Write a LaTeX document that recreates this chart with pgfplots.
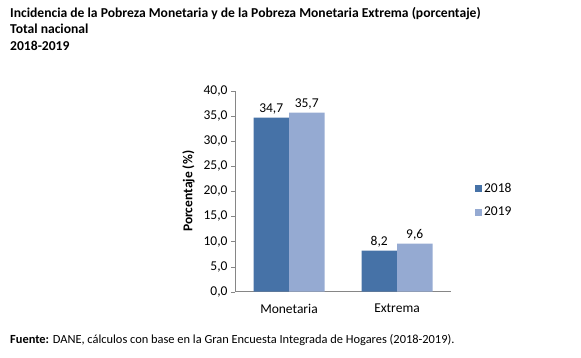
\documentclass[border=0pt]{standalone}
\usepackage{fontspec}
\setmainfont{Carlito}
\usepackage{pgfplots}
\pgfplotsset{compat=1.18}
\definecolor{c18}{RGB}{70,114,167}
\definecolor{c19}{RGB}{149,170,210}
\definecolor{axgray}{RGB}{134,134,134}
\begin{document}
\begin{tikzpicture}[x=1pt,y=1pt]
\path[use as bounding box] (0pt,0pt) rectangle (581pt,358pt);
\node[anchor=north west, font=\bfseries\fontsize{13.6}{16.5}\selectfont, align=left, inner sep=0] at (10pt,351pt) {Incidencia de la Pobreza Monetaria y de la Pobreza Monetaria Extrema (porcentaje)\\Total nacional\\2018-2019};
\node[anchor=base west, font=\fontsize{12.4}{14}\selectfont, inner sep=0] at (10pt,14pt) {\textbf{Fuente:} DANE, cálculos con base en la Gran Encuesta Integrada de Hogares (2018-2019).};
\begin{axis}[
  at={(235pt,66.3pt)}, anchor=south west,
  scale only axis, width=216pt, height=200.7pt,
  ybar=0pt, bar width=35.5pt,
  xmin=-0.5, xmax=1.5, ymin=0, ymax=40,
  axis x line*=bottom, axis y line*=left,
  axis line style={axgray},
  every outer x axis line/.append style={-}, every outer y axis line/.append style={-},
  xtick={0,1}, xticklabels={Monetaria,Extrema},
  x tick style={draw=none},
  x tick label style={yshift=-5pt},
  extra x ticks={-0.5,0.5,1.5}, extra x tick labels={},
  extra x tick style={tick style={draw=axgray}, major tick length=4pt, tickwidth=4pt},
  ytick={0,5,...,40},
  y tick style={axgray}, tickwidth=4pt,
  tick align=outside,
  y tick label style={/pgf/number format/.cd, fixed, fixed zerofill, precision=1, use comma},
  /pgf/number format/assume math mode=true,
  ticklabel style={font=\fontsize{13.5}{15}\selectfont},
  ylabel={\textbf{Porcentaje (\%)}},
  ylabel style={font=\fontsize{13.5}{15}\selectfont, yshift=2pt},
  nodes near coords,
  nodes near coords style={font=\fontsize{13.5}{15}\selectfont, /pgf/number format/.cd, fixed, fixed zerofill, precision=1, use comma, assume math mode=true},
  legend style={at={(1.097,0.455)}, anchor=west, draw=none, fill=none, font=\fontsize{13.5}{15}\selectfont, row sep=9pt},
  legend cell align=left,
  legend image code/.code={\fill[#1] (0pt,-3.5pt) rectangle (7pt,3.5pt);},
]
\addplot[fill=c18, draw=none] coordinates {(0,34.7) (1,8.2)};
\addplot[fill=c19, draw=none] coordinates {(0,35.7) (1,9.6)};
\legend{2018,2019}
\end{axis}
\end{tikzpicture}
\end{document}
